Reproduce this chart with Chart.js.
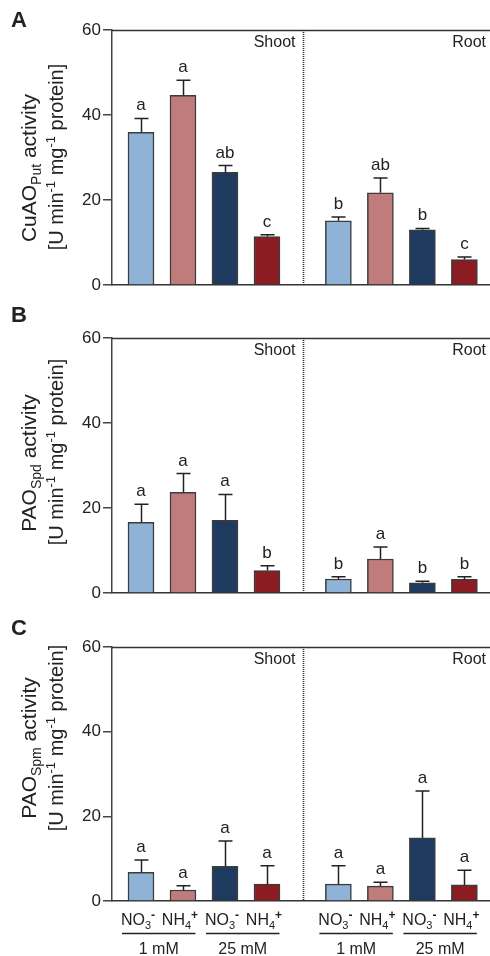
<!DOCTYPE html>
<html>
<head>
<meta charset="utf-8">
<script src="https://cdn.jsdelivr.net/npm/chart.js@4.4.1/dist/chart.umd.min.js"></script>
<style>
  html, body { margin: 0; padding: 0; background: #fff; }
  #wrap { position: relative; width: 490px; height: 956px; overflow: hidden; }
  canvas { position: absolute; left: 0; }
</style>
</head>
<body>
<div id="wrap">
  <canvas id="panel-a" width="490" height="300" style="top:0"></canvas>
  <canvas id="panel-b" width="490" height="310" style="top:300px"></canvas>
  <canvas id="panel-c" width="490" height="346" style="top:610px"></canvas>
</div>
<script>
// ---- data ----
const yTicks = [0, 20, 40, 60];
const tissues = ['Shoot', 'Root'];
const nitrogenForms = ['NO3-', 'NH4+', 'NO3-', 'NH4+'];
const concentrations = ['1 mM', '25 mM'];

// order: shoot (NO3 1mM, NH4 1mM, NO3 25mM, NH4 25mM), root (same)
const cuaoMeans   = [35.9, 44.6, 26.5, 11.4, 15.1, 21.7, 13.0, 6.0];
const cuaoErrors  = [3.3, 3.6, 1.6, 0.4, 0.9, 3.5, 0.3, 0.6];
const cuaoLetters = ['a', 'a', 'ab', 'c', 'b', 'ab', 'b', 'c'];

const spdMeans   = [16.6, 23.7, 17.1, 5.3, 3.3, 8.0, 2.4, 3.2];
const spdErrors  = [4.3, 4.4, 6.1, 1.1, 0.5, 2.8, 0.35, 0.6];
const spdLetters = ['a', 'a', 'a', 'b', 'b', 'a', 'b', 'b'];

const spmMeans   = [6.8, 2.6, 8.2, 4.0, 4.0, 3.5, 14.9, 3.8];
const spmErrors  = [2.9, 1.0, 6.0, 4.3, 4.3, 0.9, 11.1, 3.45];
const spmLetters = ['a', 'a', 'a', 'a', 'a', 'a', 'a', 'a'];

const barColors = ['#8fb3d7', '#c07b7b', '#1f3a5f', '#8b1d22'];

// ---- layout ----
const FONT = "'Liberation Sans', Arial, sans-serif";
const TISSUE_GAP = 0.7;   // extra slot space between shoot and root groups
const X_MIN = -0.69, X_MAX = 8.31;
const xFor = i => i + (i >= 4 ? TISSUE_GAP : 0);

function drawRich(ctx, segs, cx, baseline) {
  let total = 0;
  segs.forEach(s => { ctx.font = s.font; s.w = ctx.measureText(s.text).width; total += s.w; });
  let x = cx - total / 2;
  segs.forEach(s => {
    ctx.font = s.font;
    ctx.fillText(s.text, x, baseline + (s.dy || 0));
    x += s.w;
  });
}

function ionSegs(label) {
  const base = label.slice(0, 2), sub = label[2], sup = label[3];
  return [
    { text: base, font: `16px ${FONT}` },
    { text: sub, font: `11px ${FONT}`, dy: 4 },
    { text: sup, font: `bold 12px ${FONT}`, dy: -6 }
  ];
}

const decorPlugin = {
  id: 'decor',
  afterDatasetsDraw(chart, args, opts) {
    const ctx = chart.ctx;
    const { top, bottom, left, right } = chart.chartArea;
    const xs = chart.scales.x, ys = chart.scales.y;
    const meta = chart.getDatasetMeta(0);
    ctx.save();

    // top frame line
    ctx.strokeStyle = '#333';
    ctx.lineWidth = 1.5;
    ctx.beginPath(); ctx.moveTo(left, top + 0.5); ctx.lineTo(right, top + 0.5); ctx.stroke();

    // dotted divider between shoot and root
    const divX = Math.round(xs.getPixelForValue(3 + (1 + TISSUE_GAP) / 2)) + 0.5;
    ctx.strokeStyle = '#222';
    ctx.lineWidth = 1.6;
    ctx.setLineDash([1, 1]);
    ctx.beginPath(); ctx.moveTo(divX, top); ctx.lineTo(divX, bottom); ctx.stroke();
    ctx.setLineDash([]);

    // error bars + letters
    ctx.strokeStyle = '#222';
    ctx.fillStyle = '#222';
    ctx.textAlign = 'center';
    ctx.textBaseline = 'alphabetic';
    meta.data.forEach((bar, i) => {
      const cx = Math.round(bar.x) + 0.5;
      const yBar = ys.getPixelForValue(opts.means[i]);
      const yErr = ys.getPixelForValue(opts.means[i] + opts.errors[i]);
      ctx.lineWidth = 1.5;
      ctx.beginPath();
      ctx.moveTo(cx, yBar); ctx.lineTo(cx, yErr);
      ctx.moveTo(cx - 7, yErr); ctx.lineTo(cx + 7, yErr);
      ctx.stroke();
      ctx.font = `17px ${FONT}`;
      ctx.fillText(opts.letters[i], bar.x, yErr - 8);
    });

    // tissue labels
    ctx.font = `16px ${FONT}`;
    ctx.textAlign = 'right';
    ctx.fillText(tissues[0], divX - 8, top + 17);
    ctx.fillText(tissues[1], right - 4, top + 17);

    // panel letter
    ctx.textAlign = 'left';
    ctx.font = `bold 22px ${FONT}`;
    ctx.fillText(opts.panel, 11, opts.panelY);

    // y-axis title (two rotated lines)
    const main1 = `21px ${FONT}`, small1 = `14px ${FONT}`;
    const main2 = `20px ${FONT}`, small2 = `13px ${FONT}`;
    ctx.save();
    ctx.translate(36, opts.title1Y);
    ctx.rotate(-Math.PI / 2);
    drawRich(ctx, [
      { text: opts.enzyme, font: main1 },
      { text: opts.substrate, font: small1, dy: 5 },
      { text: ' activity', font: main1 }
    ], 0, 0);
    ctx.restore();
    ctx.save();
    ctx.translate(63, opts.title2Y);
    ctx.rotate(-Math.PI / 2);
    drawRich(ctx, [
      { text: '[U min', font: main2 },
      { text: '-1', font: small2, dy: -8 },
      { text: ' mg', font: main2 },
      { text: '-1', font: small2, dy: -8 },
      { text: ' protein]', font: main2 }
    ], 0, 0);
    ctx.restore();

    // x labels (bottom panel only)
    if (opts.xLabels) {
      const centers = meta.data.map(b => b.x);
      centers.forEach((c, i) => {
        drawRich(ctx, ionSegs(nitrogenForms[i % 4]), c - 3, bottom + 24);
      });
      ctx.lineWidth = 1.5;
      ctx.strokeStyle = '#222';
      ctx.font = `16px ${FONT}`;
      ctx.textAlign = 'center';
      for (let g = 0; g < 4; g++) {
        const x1 = centers[g * 2] - 19, x2 = centers[g * 2 + 1] + 12.5;
        ctx.beginPath(); ctx.moveTo(x1, bottom + 32.5); ctx.lineTo(x2, bottom + 32.5); ctx.stroke();
        ctx.fillText(concentrations[g % 2], (x1 + x2) / 2, bottom + 53);
      }
    }
    ctx.restore();
  }
};

function makePanel(id, means, errors, letters, cfg) {
  new Chart(document.getElementById(id), {
    type: 'bar',
    data: {
      datasets: [{
        data: means.map((v, i) => ({ x: xFor(i), y: v })),
        backgroundColor: means.map((v, i) => barColors[i % 4]),
        borderColor: '#3c3c3c',
        borderWidth: 1.5,
        barThickness: 26
      }]
    },
    options: {
      responsive: false,
      animation: false,
      layout: { padding: { top: cfg.top, right: 0, bottom: 0, left: 0 } },
      scales: {
        x: {
          type: 'linear',
          min: X_MIN,
          max: X_MAX,
          offset: false,
          grid: { display: false },
          ticks: { display: false },
          border: { display: true, color: '#333', width: 1.5 },
          afterFit: s => { s.height = cfg.bottomSpace; }
        },
        y: {
          min: 0,
          max: 60,
          afterBuildTicks: s => { s.ticks = yTicks.map(v => ({ value: v })); },
          grid: { display: true, drawOnChartArea: false, tickLength: 9, color: '#444', lineWidth: 1.5 },
          border: { display: true, color: '#444', width: 1.5 },
          ticks: { color: '#222', padding: 2, font: { family: FONT, size: 17 } },
          afterFit: s => { s.width = 112; }
        }
      },
      plugins: {
        legend: { display: false },
        tooltip: { enabled: false },
        decor: {
          means, errors, letters,
          panel: cfg.panel, panelY: cfg.panelY,
          enzyme: cfg.enzyme, substrate: cfg.substrate,
          title1Y: cfg.title1Y, title2Y: cfg.title2Y,
          xLabels: cfg.xLabels || false
        }
      }
    },
    plugins: [decorPlugin]
  });
}

makePanel('panel-a', cuaoMeans, cuaoErrors, cuaoLetters, {
  top: 30, bottomSpace: 15, panel: 'A', panelY: 27,
  enzyme: 'CuAO', substrate: 'Put', title1Y: 168, title2Y: 157
});
makePanel('panel-b', spdMeans, spdErrors, spdLetters, {
  top: 38, bottomSpace: 17, panel: 'B', panelY: 22,
  enzyme: 'PAO', substrate: 'Spd', title1Y: 163, title2Y: 152
});
makePanel('panel-c', spmMeans, spmErrors, spmLetters, {
  top: 37, bottomSpace: 55, panel: 'C', panelY: 25,
  enzyme: 'PAO', substrate: 'Spm', title1Y: 138, title2Y: 128, xLabels: true
});
</script>
</body>
</html>
